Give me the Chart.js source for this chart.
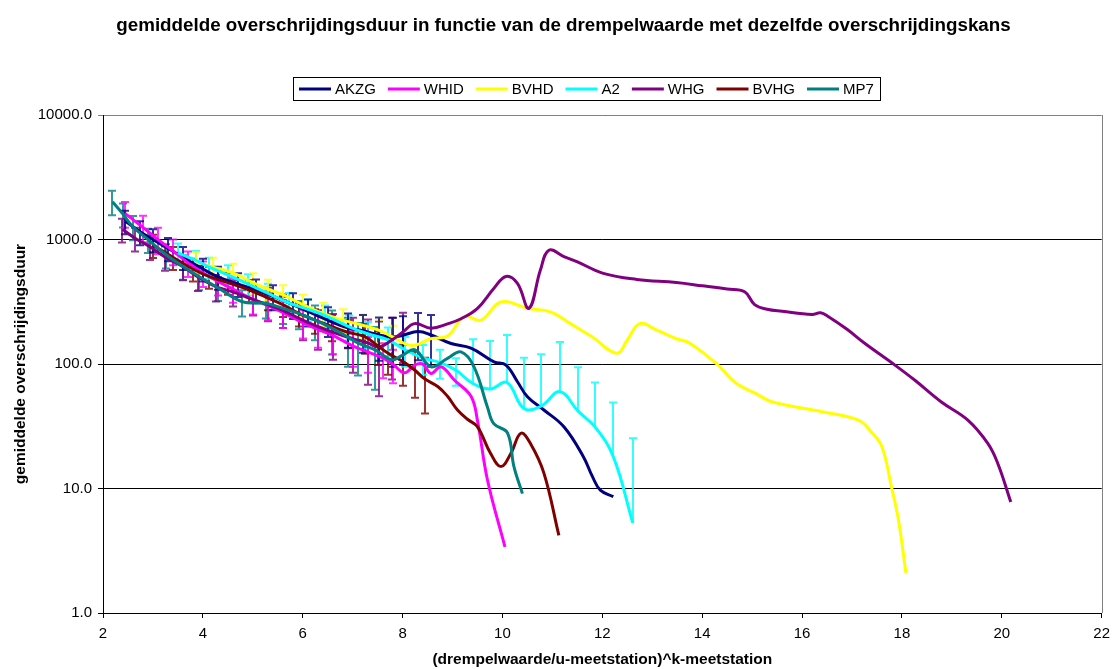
<!DOCTYPE html>
<html>
<head>
<meta charset="utf-8">
<title>gemiddelde overschrijdingsduur</title>
<script src="https://cdn.jsdelivr.net/npm/chart.js"></script>
<style>
    html, body { margin: 0; padding: 0; background: #fff; }
    #grafiek { display: block; }
</style>
</head>
<body>
<canvas id="grafiek" width="1117" height="669"></canvas>
<script>
var titel = "gemiddelde overschrijdingsduur in functie van de drempelwaarde met dezelfde overschrijdingskans";
var xTitel = "(drempelwaarde/u-meetstation)^k-meetstation";
var yTitel = "gemiddelde overschrijdingsduur";

var reeksNamen = ['AKZG', 'WHID', 'BVHD', 'A2', 'WHG', 'BVHG', 'MP7'];
var reeksKleuren = ['#000080', '#FF00FF', '#FFFF00', '#00FFFF', '#800080', '#800000', '#008080'];
var yTicks = [1, 10, 100, 1000, 10000];

// AKZG
var akzgX = [2.45, 2.75, 3.0, 3.3, 3.6, 4.0, 4.3, 4.7, 5.06, 5.4, 5.8, 6.1, 6.5, 6.9, 7.2, 7.52, 7.8, 8.0, 8.31, 8.57, 8.97, 9.37, 9.83, 10.07, 10.3, 10.5, 10.83, 11.23, 11.62, 11.8, 11.96, 12.22];
var akzgY = [1400, 1150, 1000, 850, 720, 580, 500, 440, 393, 350, 300, 265, 225, 195, 185, 171, 165, 170, 182, 171, 146, 134, 104, 98, 72, 54.6, 42.7, 31.3, 18, 12.5, 9.7, 8.6];
var akzgFout = [300, 250, 210, 180, 150, 120, 105, 95, 85, 80, 70, 65, 60, 60, 62, 65, 70, 72, 75, 76, null, null, null, null, null, null, null, null, null, null, null, null];

// WHID
var whidX = [2.44, 2.8, 3.1, 3.4, 3.7, 4.0, 4.3, 4.6, 5.0, 5.3, 5.6, 6.0, 6.3, 6.6, 7.0, 7.3, 7.6, 7.8, 8.04, 8.24, 8.4, 8.57, 8.77, 9.04, 9.37, 9.5, 9.7, 10.05];
var whidY = [1622, 1250, 1000, 810, 650, 540, 460, 400, 330, 295, 260, 215, 190, 170, 140, 125, 112, 100, 85, 98, 100, 84, 95, 74, 55, 35, 11.7, 3.4];
var whidFout = [380, 300, 240, 190, 150, 125, 105, 90, 80, 70, 65, 55, 55, 50, 45, 40, 35, 30, null, null, null, null, null, null, null, null, null, null];

// BVHD
var bvhdX = [3.86, 4.2, 4.6, 5.0, 5.3, 5.6, 6.0, 6.4, 6.8, 7.2, 7.52, 7.8, 8.18, 8.57, 8.9, 9.24, 9.57, 9.97, 10.5, 10.96, 11.36, 11.8, 12.29, 12.5, 12.75, 13.08, 13.48, 13.75, 14.28, 14.68, 15.07, 15.41, 16.4, 17.13, 17.4, 17.6, 17.79, 17.93, 18.08];
var bvhdY = [664, 600, 540, 450, 400, 360, 300, 255, 225, 205, 187, 165, 141, 160, 168, 240, 225, 315, 280, 262, 211, 165, 122, 156, 211, 188, 160, 147, 101, 70, 58, 49.5, 41.4, 35.4, 28, 21.6, 10.3, 5.6, 2.1];
var bvhdFout = [130, 115, 100, 85, 75, 70, 60, 55, 50, 45, 40, 38, null, null, null, null, null, null, null, null, null, null, null, null, null, null, null, null, null, null, null, null, null, null, null, null, null, null, null];

// A2
var a2X = [3.5, 3.86, 4.13, 4.5, 4.9, 5.3, 5.72, 6.1, 6.45, 6.92, 7.3, 7.71, 8.05, 8.4, 8.74, 9.07, 9.40, 9.76, 10.09, 10.43, 10.78, 11.15, 11.51, 11.86, 12.22, 12.61];
var a2Y = [780, 680, 600, 520, 440, 370, 310, 275, 245, 200, 175, 156, 130, 112, 103, 89, 70, 63, 71, 44, 46, 60, 42, 31, 18, 5.3];
var a2Fout = [150, 130, 115, 100, 85, 72, 62, 55, 50, 45, 42, 40, 35, 30, 27, 22, 88, 90, 100, 68, 74, 90, 52, 40, 31, 20];

// WHG
var whgX = [2.39, 2.65, 2.94, 3.25, 3.6, 3.9, 4.26, 4.6, 5.0, 5.3, 5.6, 6.0, 6.3, 6.6, 7.0, 7.3, 7.52, 7.78, 8.0, 8.24, 8.57, 8.9, 9.17, 9.5, 9.83, 10.07, 10.3, 10.53, 10.76, 10.93, 11.23, 11.49, 12.02, 12.69, 13.48, 14.0, 14.5, 14.85, 15.05, 15.3, 15.6, 16.2, 16.37, 16.53, 16.9, 17.26, 17.86, 18.26, 18.79, 19.32, 19.72, 19.92, 20.18];
var whgY = [1208, 1020, 875, 720, 605, 500, 418, 380, 330, 300, 270, 225, 200, 180, 160, 148, 137, 155, 180, 211, 194, 210, 231, 280, 406, 505, 444, 280, 568, 820, 730, 664, 535, 478, 451, 425, 400, 380, 300, 275, 265, 250, 258, 240, 190, 146, 98, 74, 49.5, 35.4, 23, 15.9, 7.8];
var whgFout = [260, 220, 190, 160, 135, 115, 100, 90, 85, 80, 75, 70, 70, 72, 75, 80, 82, 80, 78, null, null, null, null, null, null, null, null, null, null, null, null, null, null, null, null, null, null, null, null, null, null, null, null, null, null, null, null, null, null, null, null, null, null];

// BVHG
var bvhgX = [3.0, 3.4, 3.8, 4.13, 4.5, 4.93, 5.3, 5.6, 5.92, 6.25, 6.58, 6.9, 7.24, 7.5, 7.71, 8.0, 8.24, 8.44, 8.71, 8.9, 9.1, 9.3, 9.5, 9.76, 9.97, 10.17, 10.37, 10.56, 10.83, 11.13];
var bvhgY = [900, 720, 580, 503, 450, 393, 340, 300, 255, 225, 200, 180, 166, 140, 122, 105, 89.5, 76, 65.7, 55, 42.7, 36, 31.3, 19.2, 15, 19.2, 27.8, 23, 13.3, 4.2];
var bvhgFout = [190, 150, 120, 100, 90, 80, 70, 62, 55, 50, 48, 46, 45, 42, 40, 38, 36, 36, null, null, null, null, null, null, null, null, null, null, null, null];

// MP7
var mp7X = [2.19, 2.4, 2.6, 2.9, 3.27, 3.6, 3.93, 4.3, 4.79, 5.26, 5.6, 5.92, 6.25, 6.58, 6.9, 7.11, 7.45, 7.78, 8.0, 8.25, 8.57, 8.9, 9.17, 9.43, 9.7, 9.83, 10.1, 10.23, 10.4];
var mp7Y = [2013, 1600, 1267, 1000, 751, 610, 502, 410, 316, 307, 280, 255, 225, 194, 165, 147, 130, 108, 118, 130, 95, 111, 125, 95, 45, 33, 28, 15, 9.1];
var mp7Fout = [450, 350, 280, 220, 165, 135, 110, 90, 75, 75, 70, 65, 70, 75, 70, 66, 68, null, null, null, null, null, null, null, null, null, null, null, null];

var reeksX = [akzgX, whidX, bvhdX, a2X, whgX, bvhgX, mp7X];
var reeksY = [akzgY, whidY, bvhdY, a2Y, whgY, bvhgY, mp7Y];
var reeksFout = [akzgFout, whidFout, bvhdFout, a2Fout, whgFout, bvhgFout, mp7Fout];

var lettertype = '"Liberation Sans", Arial, sans-serif';

function maakPunten(xs, ys) {
    var punten = [];
    for (var i = 0; i < xs.length; i++) {
        punten.push({ x: xs[i], y: ys[i] });
    }
    return punten;
}

var datasets = [];
for (var r = 0; r < reeksNamen.length; r++) {
    datasets.push({
        label: reeksNamen[r],
        data: maakPunten(reeksX[r], reeksY[r]),
        borderColor: reeksKleuren[r],
        backgroundColor: reeksKleuren[r],
        borderWidth: 3,
        borderJoinStyle: 'round',
        pointRadius: 0,
        tension: 0.4,
        fill: false,
        order: reeksNamen.length - 1 - r
    });
}

// error bars, drawn under the lines
var foutbalken = {
    id: 'foutbalken',
    beforeDatasetsDraw: function (chart) {
        var ctx = chart.ctx;
        var xs = chart.scales.x;
        var ys = chart.scales.y;
        var area = chart.chartArea;
        ctx.save();
        ctx.beginPath();
        ctx.rect(area.left, area.top, area.right - area.left, area.bottom - area.top);
        ctx.clip();
        ctx.lineWidth = 2;
        ctx.globalAlpha = 0.8;
        for (var r = reeksNamen.length - 1; r >= 0; r--) {
            ctx.strokeStyle = reeksKleuren[r];
            for (var i = 0; i < reeksX[r].length; i++) {
                var f = reeksFout[r][i];
                if (f == null) continue;
                var v = reeksY[r][i];
                var px = Math.round(xs.getPixelForValue(reeksX[r][i]));
                var boven = ys.getPixelForValue(v + f);
                var heeftOnder = v - f > 0;
                var onder = heeftOnder ? ys.getPixelForValue(v - f) : ys.getPixelForValue(v);
                ctx.beginPath();
                ctx.moveTo(px, boven);
                ctx.lineTo(px, onder);
                ctx.moveTo(px - 4, boven);
                ctx.lineTo(px + 4, boven);
                if (heeftOnder) {
                    ctx.moveTo(px - 4, onder);
                    ctx.lineTo(px + 4, onder);
                }
                ctx.stroke();
            }
        }
        ctx.restore();
    }
};

// title, legend box and right border like the excel chart
var opmaak = {
    id: 'opmaak',
    afterDraw: function (chart) {
        var ctx = chart.ctx;
        var area = chart.chartArea;
        ctx.save();

        ctx.strokeStyle = '#808080';
        ctx.lineWidth = 1;
        ctx.beginPath();
        ctx.moveTo(Math.round(area.right) + 0.5, area.top);
        ctx.lineTo(Math.round(area.right) + 0.5, area.bottom);
        ctx.stroke();

        ctx.fillStyle = '#000';
        ctx.font = 'bold 18.8px ' + lettertype;
        ctx.textAlign = 'center';
        ctx.textBaseline = 'middle';
        ctx.fillText(titel, 563.5, 26);

        ctx.font = '15px ' + lettertype;
        var lijn = 32, gat = 4, tussen = 12, marge = 6;
        var breedte = marge * 2 - tussen;
        var tekstBreedtes = [];
        for (var i = 0; i < reeksNamen.length; i++) {
            tekstBreedtes.push(ctx.measureText(reeksNamen[i]).width);
            breedte += lijn + gat + tekstBreedtes[i] + tussen;
        }
        var links = Math.round(586 - breedte / 2);
        var boven = 77, hoogte = 23, midY = boven + hoogte / 2;
        ctx.strokeStyle = '#000';
        ctx.strokeRect(links + 0.5, boven + 0.5, Math.round(breedte), hoogte);

        var x = links + marge;
        ctx.textAlign = 'left';
        for (var j = 0; j < reeksNamen.length; j++) {
            ctx.strokeStyle = reeksKleuren[j];
            ctx.lineWidth = 3;
            ctx.beginPath();
            ctx.moveTo(x, midY + 0.5);
            ctx.lineTo(x + lijn, midY + 0.5);
            ctx.stroke();
            ctx.fillStyle = '#000';
            ctx.fillText(reeksNamen[j], x + lijn + gat, midY + 1);
            x += lijn + gat + tekstBreedtes[j] + tussen;
        }
        ctx.restore();
    }
};

Chart.defaults.font.family = lettertype;
Chart.defaults.color = '#000';

var grafiek = new Chart(document.getElementById('grafiek'), {
    type: 'line',
    data: { datasets: datasets },
    plugins: [foutbalken, opmaak],
    options: {
        responsive: false,
        animation: false,
        devicePixelRatio: 1,
        layout: { padding: { top: 115, right: 10, bottom: 0, left: 0 } },
        plugins: {
            legend: { display: false },
            title: { display: false },
            tooltip: { enabled: false }
        },
        scales: {
            x: {
                type: 'linear',
                min: 2,
                max: 22,
                afterFit: function (scale) { scale.height = 56; },
                ticks: { stepSize: 2, font: { size: 15 }, padding: 7, maxRotation: 0 },
                grid: { drawOnChartArea: false, drawTicks: true, tickLength: 5, color: '#000' },
                border: { color: '#000', width: 1 },
                title: {
                    display: true,
                    text: xTitel,
                    font: { size: 15.5, weight: 'bold' },
                    padding: { top: 0, bottom: 0 }
                }
            },
            y: {
                type: 'logarithmic',
                min: 1,
                max: 10000,
                afterFit: function (scale) { scale.width = 103; },
                afterBuildTicks: function (scale) {
                    scale.ticks = yTicks.map(function (v) { return { value: v }; });
                },
                ticks: {
                    font: { size: 15 },
                    padding: 6,
                    callback: function (value) { return Number(value).toFixed(1); }
                },
                grid: {
                    tickLength: 5,
                    color: function (c) { return c.tick && c.tick.value === 10000 ? '#808080' : '#000'; }
                },
                border: { color: '#000', width: 1 },
                title: {
                    display: true,
                    text: yTitel,
                    font: { size: 15.5, weight: 'bold' },
                    padding: { top: 11, bottom: 0 }
                }
            }
        }
    }
});
</script>
</body>
</html>
